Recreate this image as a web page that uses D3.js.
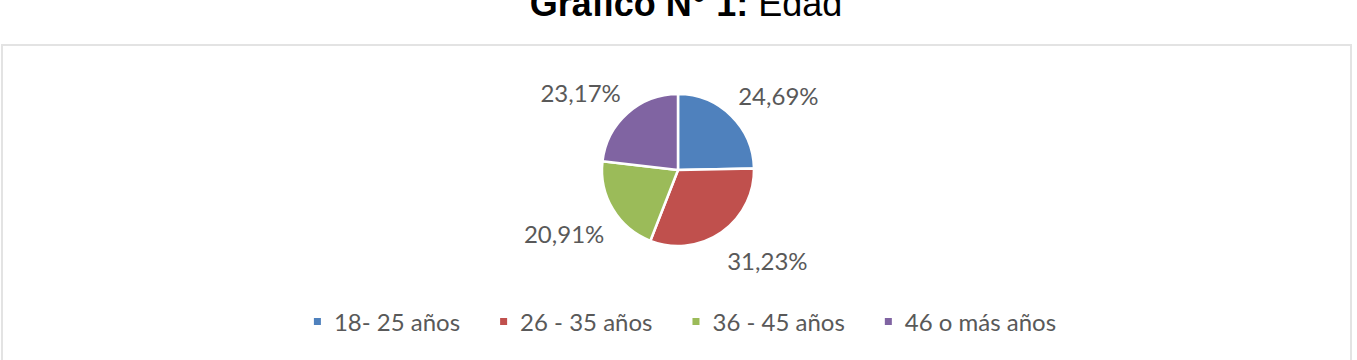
<!DOCTYPE html>
<html>
<head>
<meta charset="utf-8">
<script src="https://cdn.jsdelivr.net/npm/d3@7"></script>
<style>
  body { margin: 0; background: #fff; }
  svg { display: block; }
</style>
</head>
<body>
<script>
// data
var categories = ["18- 25 años", "26 - 35 años", "36 - 45 años", "46 o más años"];
var values = [24.69, 31.23, 20.91, 23.17];
var labels = ["24,69%", "31,23%", "20,91%", "23,17%"];
var colors = ["#4f81bd", "#c0504d", "#9bbb59", "#8064a2"];

var width = 1357;
var height = 360;
var center = { x: 678, y: 170 };
var radius = 76;
var textColor = "#595959";
var labelFont = "Lato, 'Open Sans', sans-serif";

var svg = d3.select("body")
  .append("svg")
  .attr("width", width)
  .attr("height", height);

/* frame */
svg.append("rect")
  .attr("x", 2)
  .attr("y", 45)
  .attr("width", 1349)
  .attr("height", 330)
  .style("fill", "none")
  .style("stroke", "#e3e3e3")
  .style("stroke-width", 2);

/* title: bold part + regular part (top is cropped, as in the source) */
var title = svg.append("text")
  .attr("x", 686)
  .attr("y", 16)
  .attr("text-anchor", "middle")
  .style("font-family", "'Liberation Sans', Arial, sans-serif")
  .style("font-size", "36px")
  .style("fill", "#000");
title.append("tspan").style("font-weight", "bold").text("Gráfico N° 1: ");
title.append("tspan").text("Edad");

/* pie */
var pie = d3.pie().sort(null).value(d => d)(values);
var arc = d3.arc().innerRadius(0).outerRadius(radius);
var labelArc = d3.arc().innerRadius(radius + 10).outerRadius(radius + 10);

var g = svg.append("g")
  .attr("transform", `translate(${center.x},${center.y})`);

g.selectAll("path")
  .data(pie)
  .enter()
  .append("path")
  .attr("d", arc)
  .style("fill", (d, i) => colors[i])
  .style("stroke", "#fff")
  .style("stroke-width", 2.5)
  .style("stroke-linejoin", "round");

/* labels: nearest corner of the text box sits on the outer arc */
g.selectAll("text.lbl")
  .data(pie)
  .enter()
  .append("text")
  .attr("class", "lbl")
  .each(function(d, i) {
    var p = labelArc.centroid(d);
    var mid = (d.startAngle + d.endAngle) / 2;
    var right = Math.sin(mid) >= 0;
    var upper = -Math.cos(mid) < 0;
    d3.select(this)
      .attr("x", p[0])
      .attr("y", upper ? p[1] - 4 : p[1] + 29)
      .attr("text-anchor", right ? "start" : "end")
      .text(labels[i]);
  })
  .style("font-family", labelFont)
  .style("font-size", "24px")
  .style("fill", textColor);

/* legend */
var legend = svg.append("g");
var items = legend.selectAll("g")
  .data(categories)
  .enter()
  .append("g");

items.append("rect")
  .attr("width", 7)
  .attr("height", 7)
  .attr("y", 318)
  .style("fill", (d, i) => colors[i]);

items.append("text")
  .attr("x", 20)
  .attr("y", 331)
  .text(d => d)
  .style("font-family", labelFont)
  .style("font-size", "24px")
  .style("fill", textColor);

var itemGap = 40;
var widths = [];
items.each(function() {
  widths.push(20 + d3.select(this).select("text").node().getComputedTextLength());
});
var total = d3.sum(widths) + itemGap * (widths.length - 1);
var xpos = 685 - total / 2;
items.each(function(d, i) {
  d3.select(this).attr("transform", `translate(${xpos},0)`);
  xpos += widths[i] + itemGap;
});
</script>
</body>
</html>
